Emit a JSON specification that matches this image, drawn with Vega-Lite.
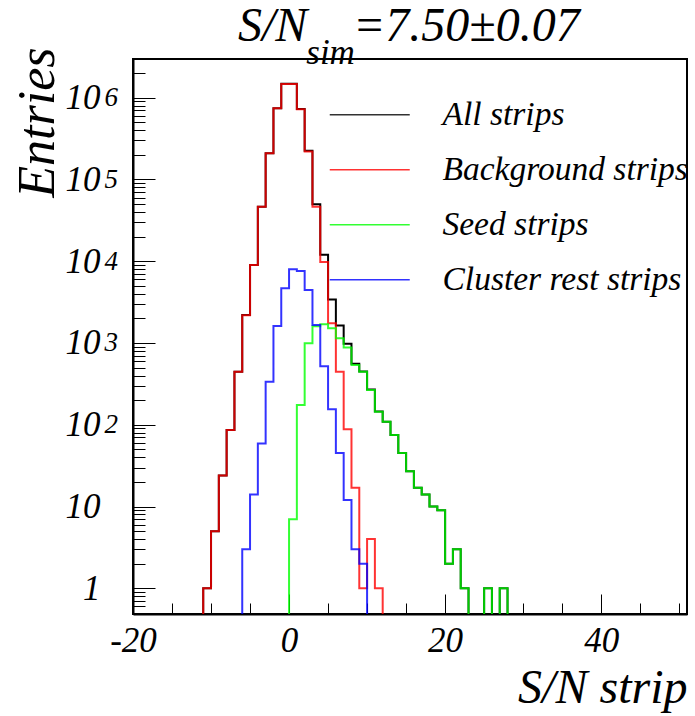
{
  "$schema": "https://vega.github.io/schema/vega-lite/v6.json",
  "width": 554,
  "height": 555,
  "autosize": {"type": "none"},
  "padding": {"left": 133, "top": 59, "right": 8, "bottom": 102},
  "background": "white",
  "title": {
    "text": "S/N\u00a0\u00a0\u00a0\u2009=7.50\u00b10.07",
    "subtitle": "\u200b\u00a0\u00a0\u00a0\u00a0\u00a0\u00a0\u00a0\u2009sim",
    "anchor": "start",
    "frame": "group",
    "dx": 105,
    "offset": -24,
    "font": "Liberation Serif",
    "fontStyle": "italic",
    "fontWeight": "normal",
    "fontSize": 48,
    "color": "black",
    "subtitleFont": "Liberation Serif",
    "subtitleFontStyle": "italic",
    "subtitleFontSize": 35,
    "subtitleColor": "black",
    "subtitlePadding": -15
  },
  "data": {
    "values": [
      {"s": "All strips", "x": -12, "n": 0.01},
      {"s": "All strips", "x": -11, "n": 1},
      {"s": "All strips", "x": -10, "n": 5},
      {"s": "All strips", "x": -9, "n": 24},
      {"s": "All strips", "x": -8, "n": 86},
      {"s": "All strips", "x": -7, "n": 446},
      {"s": "All strips", "x": -6, "n": 2193},
      {"s": "All strips", "x": -5, "n": 8985},
      {"s": "All strips", "x": -4, "n": 46460},
      {"s": "All strips", "x": -3, "n": 209300},
      {"s": "All strips", "x": -2, "n": 743600},
      {"s": "All strips", "x": -1, "n": 1475000},
      {"s": "All strips", "x": 0, "n": 1478000},
      {"s": "All strips", "x": 1, "n": 728800},
      {"s": "All strips", "x": 2, "n": 224400},
      {"s": "All strips", "x": 3, "n": 49660},
      {"s": "All strips", "x": 4, "n": 12020},
      {"s": "All strips", "x": 5, "n": 3405},
      {"s": "All strips", "x": 6, "n": 1631},
      {"s": "All strips", "x": 7, "n": 980},
      {"s": "All strips", "x": 8, "n": 557},
      {"s": "All strips", "x": 9, "n": 449},
      {"s": "All strips", "x": 10, "n": 270},
      {"s": "All strips", "x": 11, "n": 145},
      {"s": "All strips", "x": 12, "n": 109},
      {"s": "All strips", "x": 13, "n": 75},
      {"s": "All strips", "x": 14, "n": 45},
      {"s": "All strips", "x": 15, "n": 27},
      {"s": "All strips", "x": 16, "n": 17},
      {"s": "All strips", "x": 17, "n": 14},
      {"s": "All strips", "x": 18, "n": 10},
      {"s": "All strips", "x": 19, "n": 9},
      {"s": "All strips", "x": 20, "n": 2},
      {"s": "All strips", "x": 21, "n": 3},
      {"s": "All strips", "x": 22, "n": 1},
      {"s": "All strips", "x": 23, "n": 0.01},
      {"s": "All strips", "x": 25, "n": 1},
      {"s": "All strips", "x": 26, "n": 0.01},
      {"s": "All strips", "x": 27, "n": 1},
      {"s": "All strips", "x": 28, "n": 0.01},

      {"s": "Background strips", "x": -12, "n": 0.01},
      {"s": "Background strips", "x": -11, "n": 1},
      {"s": "Background strips", "x": -10, "n": 5},
      {"s": "Background strips", "x": -9, "n": 24},
      {"s": "Background strips", "x": -8, "n": 86},
      {"s": "Background strips", "x": -7, "n": 446},
      {"s": "Background strips", "x": -6, "n": 2190},
      {"s": "Background strips", "x": -5, "n": 8970},
      {"s": "Background strips", "x": -4, "n": 46400},
      {"s": "Background strips", "x": -3, "n": 209000},
      {"s": "Background strips", "x": -2, "n": 742000},
      {"s": "Background strips", "x": -1, "n": 1470000},
      {"s": "Background strips", "x": 0, "n": 1470000},
      {"s": "Background strips", "x": 1, "n": 721000},
      {"s": "Background strips", "x": 2, "n": 219000},
      {"s": "Background strips", "x": 3, "n": 46400},
      {"s": "Background strips", "x": 4, "n": 9800},
      {"s": "Background strips", "x": 5, "n": 1740},
      {"s": "Background strips", "x": 6, "n": 446},
      {"s": "Background strips", "x": 7, "n": 88},
      {"s": "Background strips", "x": 8, "n": 17},
      {"s": "Background strips", "x": 9, "n": 1},
      {"s": "Background strips", "x": 10, "n": 4},
      {"s": "Background strips", "x": 11, "n": 1},
      {"s": "Background strips", "x": 12, "n": 0.01},

      {"s": "Seed strips", "x": -1, "n": 0.01},
      {"s": "Seed strips", "x": 0, "n": 7},
      {"s": "Seed strips", "x": 1, "n": 174},
      {"s": "Seed strips", "x": 2, "n": 990},
      {"s": "Seed strips", "x": 3, "n": 1600},
      {"s": "Seed strips", "x": 4, "n": 1700},
      {"s": "Seed strips", "x": 5, "n": 1510},
      {"s": "Seed strips", "x": 6, "n": 1140},
      {"s": "Seed strips", "x": 7, "n": 880},
      {"s": "Seed strips", "x": 8, "n": 537},
      {"s": "Seed strips", "x": 9, "n": 446},
      {"s": "Seed strips", "x": 10, "n": 266},
      {"s": "Seed strips", "x": 11, "n": 144},
      {"s": "Seed strips", "x": 12, "n": 109},
      {"s": "Seed strips", "x": 13, "n": 75},
      {"s": "Seed strips", "x": 14, "n": 45},
      {"s": "Seed strips", "x": 15, "n": 27},
      {"s": "Seed strips", "x": 16, "n": 17},
      {"s": "Seed strips", "x": 17, "n": 14},
      {"s": "Seed strips", "x": 18, "n": 10},
      {"s": "Seed strips", "x": 19, "n": 9},
      {"s": "Seed strips", "x": 20, "n": 2},
      {"s": "Seed strips", "x": 21, "n": 3},
      {"s": "Seed strips", "x": 22, "n": 1},
      {"s": "Seed strips", "x": 23, "n": 0.01},
      {"s": "Seed strips", "x": 25, "n": 1},
      {"s": "Seed strips", "x": 26, "n": 0.01},
      {"s": "Seed strips", "x": 27, "n": 1},
      {"s": "Seed strips", "x": 28, "n": 0.01},

      {"s": "Cluster rest strips", "x": -7, "n": 0.01},
      {"s": "Cluster rest strips", "x": -6, "n": 3},
      {"s": "Cluster rest strips", "x": -5, "n": 14},
      {"s": "Cluster rest strips", "x": -4, "n": 59},
      {"s": "Cluster rest strips", "x": -3, "n": 336},
      {"s": "Cluster rest strips", "x": -2, "n": 1614},
      {"s": "Cluster rest strips", "x": -1, "n": 4670},
      {"s": "Cluster rest strips", "x": 0, "n": 8000},
      {"s": "Cluster rest strips", "x": 1, "n": 7600},
      {"s": "Cluster rest strips", "x": 2, "n": 4450},
      {"s": "Cluster rest strips", "x": 3, "n": 1660},
      {"s": "Cluster rest strips", "x": 4, "n": 520},
      {"s": "Cluster rest strips", "x": 5, "n": 155},
      {"s": "Cluster rest strips", "x": 6, "n": 45},
      {"s": "Cluster rest strips", "x": 7, "n": 12},
      {"s": "Cluster rest strips", "x": 8, "n": 3},
      {"s": "Cluster rest strips", "x": 9, "n": 2},
      {"s": "Cluster rest strips", "x": 10, "n": 0.01}
    ]
  },
  "layer": [
    {
      "transform": [{"filter": "datum.s == 'All strips'"}],
      "mark": {"type": "line", "interpolate": "step-after", "strokeWidth": 2, "clip": true},
      "encoding": {
        "x": {
          "field": "x", "type": "quantitative",
          "scale": {"domain": [-20, 51], "nice": false, "zero": false},
          "axis": {
            "orient": "bottom", "values": [-20, 0, 20, 40], "labelExpr": "'' + datum.value",
            "tickSize": -20, "tickColor": "black", "tickWidth": 1,
            "domain": true, "domainColor": "black", "domainWidth": 2,
            "labelPadding": 29, "labelFont": "Liberation Serif", "labelFontStyle": "italic",
            "labelFontSize": 35, "labelColor": "black", "labelFlush": false, "labelOverlap": false, "labelBound": false,
            "title": "S/N strip", "titleFont": "Liberation Serif", "titleFontStyle": "italic",
            "titleFontWeight": "normal", "titleFontSize": 48, "titleColor": "black",
            "titleAnchor": "end", "titlePadding": 6, "grid": false
          }
        },
        "y": {
          "field": "n", "type": "quantitative",
          "scale": {"type": "log", "domain": [0.485, 2970000], "nice": false, "zero": false},
          "axis": {
            "orient": "left", "values": [1, 10, 100, 1000, 10000, 100000, 1000000],
            "labelExpr": "datum.value == 1 ? '1' : '10'",
            "tickSize": -22, "tickColor": "black", "tickWidth": 1,
            "domain": true, "domainColor": "black", "domainWidth": 2,
            "labelPadding": 55, "labelFont": "Liberation Serif", "labelFontStyle": "italic",
            "labelFontSize": 35, "labelColor": "black", "labelOverlap": false, "labelBound": false,
            "title": "Entries", "titleFont": "Liberation Serif", "titleFontStyle": "italic",
            "titleFontWeight": "normal", "titleFontSize": 52, "titleColor": "black",
            "titleAnchor": "end", "titlePadding": 1, "titleY": -12, "grid": false
          }
        },
        "color": {
          "field": "s", "type": "nominal", "title": null,
          "scale": {"domain": ["All strips", "Background strips", "Seed strips", "Cluster rest strips"], "range": ["#000000", "#ff0000", "#00ff00", "#0000ff"]},
          "legend": {"title": null, "orient": "none", "legendX": 220, "legendY": 39, "symbolType": "M-5,0H5", "symbolSize": 256, "symbolStrokeWidth": 1.5, "symbolOpacity": 0.8, "labelFont": "Liberation Serif", "labelFontStyle": "italic", "labelFontSize": 33.5, "labelColor": "black", "labelOffset": 56, "rowPadding": 20, "padding": 0, "labelLimit": 400}
        }
      }
    },
    {
      "transform": [{"filter": "datum.s == 'Background strips'"}],
      "mark": {"type": "line", "interpolate": "step-after", "strokeWidth": 2, "clip": true, "strokeOpacity": 0.8},
      "encoding": {
        "x": {
          "field": "x", "type": "quantitative",
          "axis": {"orient": "bottom", "values": [-15, -10, -5, 5, 10, 15, 25, 30, 35, 45, 50], "tickSize": -11, "tickColor": "black", "tickWidth": 1, "labels": false, "domain": false, "title": null, "grid": false}
        },
        "y": {
          "field": "n", "type": "quantitative",
          "axis": {"orient": "left", "values": [0.5, 0.6, 0.7, 0.8, 0.9, 2, 3, 4, 5, 6, 7, 8, 9, 20, 30, 40, 50, 60, 70, 80, 90, 200, 300, 400, 500, 600, 700, 800, 900, 2000, 3000, 4000, 5000, 6000, 7000, 8000, 9000, 20000, 30000, 40000, 50000, 60000, 70000, 80000, 90000, 200000, 300000, 400000, 500000, 600000, 700000, 800000, 900000, 2000000], "tickSize": -12, "tickColor": "black", "tickWidth": 1, "labels": false, "domain": false, "title": null, "grid": false}
        },
        "color": {
          "field": "s", "type": "nominal", "title": null,
          "legend": {"title": null, "orient": "none", "legendX": 220, "legendY": 39, "symbolType": "M-5,0H5", "symbolSize": 256, "symbolStrokeWidth": 1.5, "symbolOpacity": 0.8, "labelFont": "Liberation Serif", "labelFontStyle": "italic", "labelFontSize": 33.5, "labelColor": "black", "labelOffset": 56, "rowPadding": 20, "padding": 0, "labelLimit": 400}
        }
      }
    },
    {
      "transform": [{"filter": "datum.s == 'Seed strips'"}],
      "mark": {"type": "line", "interpolate": "step-after", "strokeWidth": 2, "clip": true, "strokeOpacity": 0.8},
      "encoding": {
        "x": {"field": "x", "type": "quantitative", "axis": null},
        "y": {
          "field": "n", "type": "quantitative",
          "axis": {"orient": "left", "values": [100, 1000, 10000, 100000, 1000000], "labelExpr": "'' + round(log(datum.value) / LN10)", "ticks": false, "tickSize": 0, "domain": false, "labelAlign": "left", "labelPadding": 29, "labelDy": -12, "labelFont": "Liberation Serif", "labelFontStyle": "italic", "labelFontSize": 27, "labelColor": "black", "labelOverlap": false, "labelBound": false, "title": null, "grid": false}
        },
        "color": {
          "field": "s", "type": "nominal", "title": null,
          "legend": {"title": null, "orient": "none", "legendX": 220, "legendY": 39, "symbolType": "M-5,0H5", "symbolSize": 256, "symbolStrokeWidth": 1.5, "symbolOpacity": 0.8, "labelFont": "Liberation Serif", "labelFontStyle": "italic", "labelFontSize": 33.5, "labelColor": "black", "labelOffset": 56, "rowPadding": 20, "padding": 0, "labelLimit": 400}
        }
      }
    },
    {
      "transform": [{"filter": "datum.s == 'Cluster rest strips'"}],
      "mark": {"type": "line", "interpolate": "step-after", "strokeWidth": 2, "clip": true, "strokeOpacity": 0.8},
      "encoding": {
        "x": {"field": "x", "type": "quantitative", "axis": null},
        "y": {"field": "n", "type": "quantitative", "axis": null},
        "color": {
          "field": "s", "type": "nominal", "title": null,
          "legend": {"title": null, "orient": "none", "legendX": 220, "legendY": 39, "symbolType": "M-5,0H5", "symbolSize": 256, "symbolStrokeWidth": 1.5, "symbolOpacity": 0.8, "labelFont": "Liberation Serif", "labelFontStyle": "italic", "labelFontSize": 33.5, "labelColor": "black", "labelOffset": 56, "rowPadding": 20, "padding": 0, "labelLimit": 400}
        }
      }
    }
  ],
  "resolve": {"axis": {"x": "independent", "y": "independent"}},
  "config": {
    "view": {"stroke": "black", "strokeWidth": 2},
    "axis": {"grid": false}
  }
}
